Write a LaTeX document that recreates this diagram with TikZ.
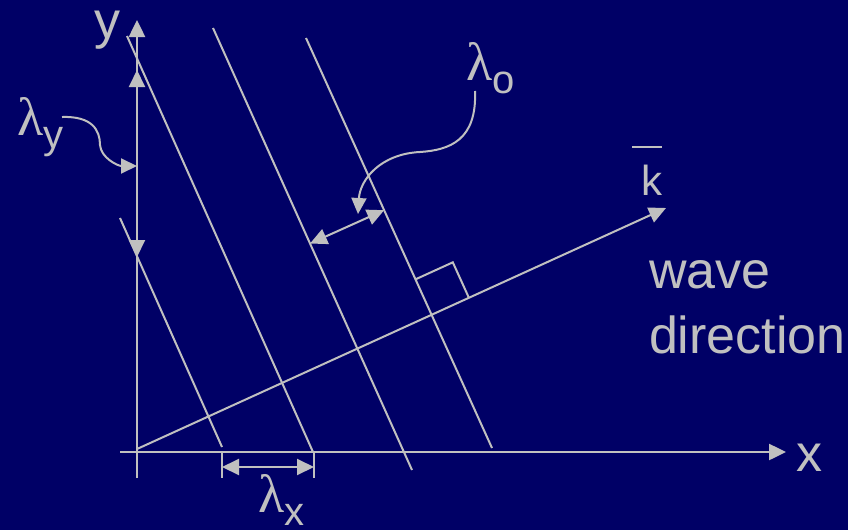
\RequirePackage{fix-cm}
\documentclass[tikz,border=0pt]{standalone}
\usepackage{fontspec}
\setmainfont{Liberation Sans}
\newfontfamily\greekfont{Liberation Serif}
\usepackage{tikz}
\usetikzlibrary{calc, arrows.meta, positioning}

\definecolor{navybg}{HTML}{000066}
\definecolor{chalk}{HTML}{C0C0C0}
\newcommand{\lamlabel}[1]{{\greekfont\fontsize{54}{60}\selectfont λ}\raisebox{-13pt}{\fontsize{40}{40}\selectfont #1}}

\begin{document}
\begin{tikzpicture}[x=1pt, y=-1pt, >={Triangle[length=17pt, width=16pt]},
    color=chalk, line width=2pt,
    every node/.style={inner sep=0pt, text=chalk, font=\fontsize{52}{60}\selectfont},
    axis/.style={line width=2.5pt, ->},
    wavefront/.style={line width=2pt},
    dimline/.style={line width=2pt, <->},
    pointer/.style={line width=2pt, ->, >={Triangle[length=16pt, width=15pt]}}]
    % nền
    \fill[navybg] (0,0) rectangle (848,530);
    \useasboundingbox (0,0) rectangle (848,530);

    % Hệ trục tọa độ
    \coordinate (xfrom) at (120,452);
    \coordinate (xto) at (786,452);
    \coordinate (yfrom) at (137,478);
    \coordinate (yto) at (137,20);
    \draw[axis] (xfrom) -- (xto);
    \draw[axis] (yfrom) -- (yto);
    \node (xlab) [anchor=base west] at (795,471) {x};
    \node (ylab) [anchor=base west] at (93,38) {y};

    % các mặt sóng
    \coordinate (w0a) at (120,218);  \coordinate (w0b) at (222,447);
    \coordinate (w1a) at (127,36);   \coordinate (w1b) at (313,452);
    \coordinate (w2a) at (213,28);   \coordinate (w2b) at (412,470);
    \coordinate (w3a) at (306,38);   \coordinate (w3b) at (492,448);
    \draw[wavefront] (w0a) -- (w0b);
    \draw[wavefront] (w1a) -- (w1b);
    \draw[wavefront] (w2a) -- (w2b);
    \draw[wavefront] (w3a) -- (w3b);

    % vector k
    \coordinate (korig) at (137,449);
    \coordinate (ktip) at (666,208);
    \draw[->, line width=2pt] (korig) -- (ktip);
    \node (klab) [anchor=base west, font=\fontsize{42}{48}\selectfont] at (640,195) {k};
    \draw[line width=2pt] (632,147) -- (662,147);
    \node (wave) [anchor=base west] at (648,288) {wave};
    \node (dir) [anchor=base west] at (648,353) {direction};

    % góc vuông
    \coordinate (kx) at (intersection of korig--ktip and w3a--w3b);
    \coordinate (ra) at ($(kx)!39pt!(w3a)$);
    \coordinate (rb) at ($(kx)!41pt!(ktip)$);
    \draw[wavefront] (ra) -- ($(ra)+(rb)-(kx)$) -- (rb);

    % lambda_o
    \coordinate (lo3) at ($(w3a)!0.42!(w3b)$);
    \coordinate (lo2) at ($(w2a)!(lo3)!(w2b)$);
    \draw[dimline] (lo2) -- (lo3);
    \node (lamo) [anchor=base west] at (465,80) {\lamlabel{o}};
    \coordinate (lofrom) at (475,91);
    \coordinate (loto) at (358,214);
    \draw[pointer] (lofrom) .. controls (477,140) and (450,150) .. (420,152)
        .. controls (380,154) and (360,180) .. (loto);

    % lambda_y
    \coordinate (ly0) at (137,257);
    \coordinate (ly1) at (137,70);
    \draw[dimline] (ly0) -- (ly1);
    \node (lamy) [anchor=base west] at (16,135) {\lamlabel{y}};
    \coordinate (lyfrom) at (62,117);
    \coordinate (lyto) at (137,166);
    \draw[pointer] (lyfrom) .. controls (92,116) and (100,130) .. (100,145)
        .. controls (101,158) and (118,166) .. (lyto);

    % lambda_x
    \coordinate (tl) at (222,452);
    \coordinate (tr) at (314,452);
    \draw[wavefront] (tl) -- ++(0,26);
    \draw[wavefront] (tr) -- ++(0,26);
    \draw[dimline] ($(tl)+(0,15)$) -- ($(tr)+(0,15)$);
    \node (lamx) [anchor=base west] at (257,512) {\lamlabel{x}};
\end{tikzpicture}
\end{document}
